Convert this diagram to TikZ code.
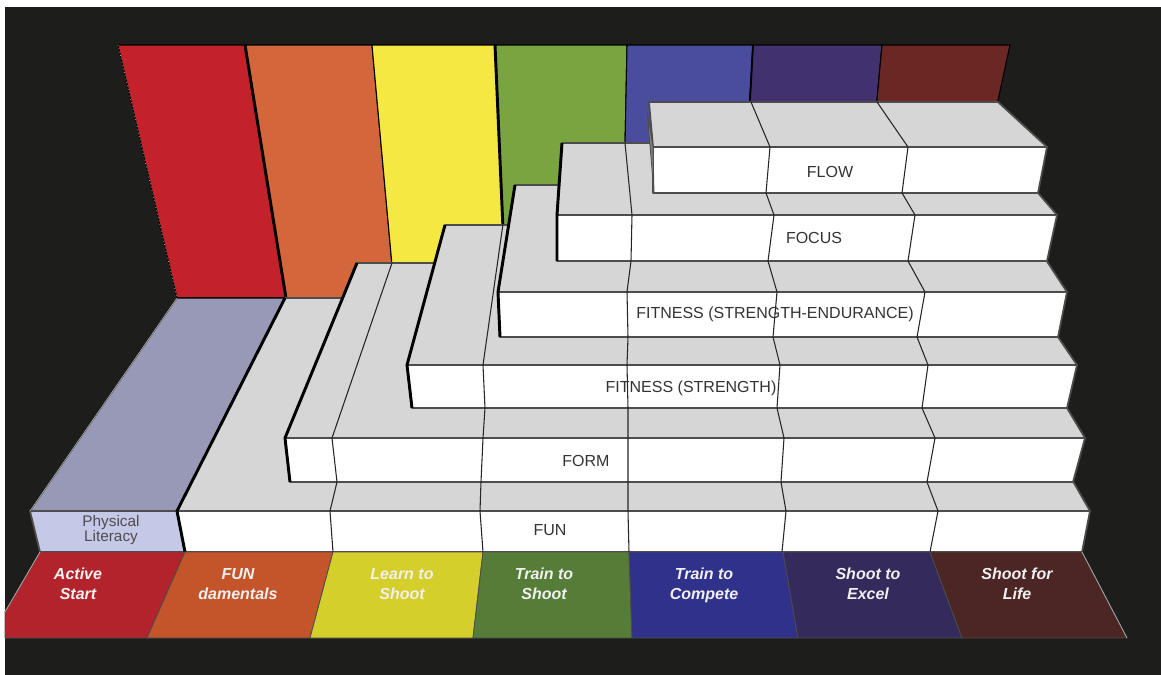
\documentclass[tikz,border=0pt]{standalone}
\usepackage{fontspec}
\setmainfont{Liberation Sans}
\usetikzlibrary{positioning}
\definecolor{backdrop}{HTML}{1D1D1B}
\definecolor{wallred}{HTML}{C4222A}
\definecolor{wallorange}{HTML}{D4663C}
\definecolor{wallyellow}{HTML}{F6E843}
\definecolor{wallgreen}{HTML}{78A540}
\definecolor{wallblue}{HTML}{4A4D9E}
\definecolor{wallpurple}{HTML}{41316F}
\definecolor{wallmaroon}{HTML}{6A2723}
\definecolor{floorred}{HTML}{B3232B}
\definecolor{floororange}{HTML}{C4552B}
\definecolor{flooryellow}{HTML}{D5CF2C}
\definecolor{floorgreen}{HTML}{567D38}
\definecolor{floorblue}{HTML}{30318A}
\definecolor{floorpurple}{HTML}{352A5C}
\definecolor{floormaroon}{HTML}{4C2624}
\definecolor{pltop}{HTML}{9899B6}
\definecolor{plfront}{HTML}{C6C8E8}
\definecolor{stepgrey}{HTML}{D6D6D6}
\definecolor{edgegrey}{HTML}{4D4D4D}
\definecolor{labelgrey}{HTML}{333333}
\newcommand\stairfont{\fontsize{12}{14}\selectfont}
\newcommand\floorfont{\fontsize{12}{15}\selectfont\bfseries\itshape}
\begin{document}
\begin{tikzpicture}[x=.75pt, y=-.75pt, line join=round]
\tikzstyle{wall}=[draw=black, line width=.8pt] %%
\tikzstyle{wallline}=[draw=black, line width=2.2pt] %%
\tikzstyle{topface}=[fill=stepgrey, draw=edgegrey, line width=1.3pt] %%
\tikzstyle{frontface}=[fill=white, draw=edgegrey, line width=1.3pt] %%
\tikzstyle{sideface}=[fill=gray, draw=edgegrey, line width=.6pt] %%
\tikzstyle{slabedge}=[draw=black, line width=2.2pt] %%
\tikzstyle{divider}=[draw=black!85, line width=.8pt] %%
\tikzstyle{floorpanel}=[draw=black!70, line width=.6pt] %%
\tikzstyle{rim}=[draw=gray!70, line width=.6pt] %%
\tikzstyle{stairlabel}=[inner sep=0pt, anchor=base, text=labelgrey, font=\stairfont] %%
\tikzstyle{floorlabel}=[inner sep=0pt, align=center, text=white!94!black, font=\floorfont] %%
\useasboundingbox (0,0) rectangle (1161,675);
\fill[white] (0,0) rectangle (1161,675);
\fill[backdrop] (5,7) rectangle (1161,675); %%
% back wall
\filldraw[wall, fill=wallred] (118,45) -- (245,45) -- (286,298) -- (177,298) -- cycle; %%
\filldraw[wall, fill=wallorange] (245,45) -- (372,45) -- (395,298) -- (286,298) -- cycle; %%
\filldraw[wall, fill=wallyellow] (372,45) -- (495,45) -- (506,298) -- (395,298) -- cycle; %%
\filldraw[wall, fill=wallgreen] (495,45) -- (627,45) -- (622,298) -- (506,298) -- cycle; %%
\filldraw[wall, fill=wallblue] (627,45) -- (753,45) -- (739,298) -- (622,298) -- cycle; %%
\filldraw[wall, fill=wallpurple] (753,45) -- (882,45) -- (859,298) -- (739,298) -- cycle; %%
\filldraw[wall, fill=wallmaroon] (882,45) -- (1010,45) -- (955,298) -- (859,298) -- cycle; %%
\draw[wallline] (245,45) -- (286,298); %%
\draw[wallline] (495,45) -- (506,298); %%
\draw[wallline, line width=1.4pt] (753,45) -- (739,298); %%
\draw[rim, dotted] (118,45) -- (177,298); %%
% Physical Literacy
\filldraw[wall, fill=pltop] (177,298) -- (285,298) -- (177,511) -- (30,511) -- cycle; %%
\filldraw[frontface, fill=plfront] (30,511) -- (177,511) -- (185,552) -- (40,552) -- cycle; %%
\draw[rim] (177,298) -- (30,511); %%
% FUN
\filldraw[topface] (285,298) -- (968,298) -- (1090,511) -- (177,511) -- cycle; %%
\filldraw[frontface] (177,511) -- (1090,511) -- (1082,552) -- (185,552) -- cycle; %%
% FORM
\filldraw[topface] (357,263) -- (980,263) -- (1085,438) -- (285,438) -- cycle; %%
\filldraw[frontface] (285,438) -- (1085,438) -- (1073,482) -- (290,482) -- cycle; %%
% FITNESS (STRENGTH)
\filldraw[topface] (445,225) -- (982,225) -- (1077,365) -- (407,365) -- cycle; %%
\filldraw[frontface] (407,365) -- (1077,365) -- (1067,408) -- (412,408) -- cycle; %%
% FITNESS (STRENGTH-ENDURANCE)
\filldraw[topface] (515,185) -- (997,185) -- (1067,292) -- (498,292) -- cycle; %%
\filldraw[frontface] (498,292) -- (1067,292) -- (1058,337) -- (500,337) -- cycle; %%
% FOCUS
\filldraw[topface] (562,143) -- (995,143) -- (1057,215) -- (557,215) -- cycle; %%
\filldraw[frontface] (557,215) -- (1057,215) -- (1047,261) -- (557,261) -- cycle; %%
% FLOW
\filldraw[topface] (649,102) -- (998,102) -- (1047,147) -- (653,147) -- cycle; %%
\filldraw[frontface] (653,147) -- (1047,147) -- (1038,193) -- (653,193) -- cycle; %%
\filldraw[sideface] (647,110) -- (653,147) -- (654,193) -- cycle; %%
% left edges of the steps
\draw[slabedge] (285,298) -- (177,511) -- (185,552); %%
\draw[slabedge] (357,263) -- (285,438) -- (290,482); %%
\draw[slabedge] (445,225) -- (407,365) -- (412,408); %%
\draw[slabedge] (515,185) -- (498,292) -- (500,337); %%
\draw[slabedge] (562,143) -- (557,215) -- (557,261); %%
% stage dividers across the steps
\draw[divider] (392,263) -- (332,438) -- (337,482) -- (330,511) -- (333,552); %%
\draw[divider] (503,224) -- (483,365) -- (485,408) -- (483,438) -- (481,482) -- (480,511) -- (483,552); %%
\draw[divider] (625,143) -- (632,215) -- (631,261) -- (627,292) -- (628,337) -- (627,365) -- (628,408) -- (628,438) -- (628,482) -- (628,511) -- (629,552); %%
\draw[divider] (751,102) -- (770,147) -- (766,193) -- (774,215) -- (768,261) -- (777,292) -- (773,337) -- (780,365) -- (777,408) -- (784,438) -- (781,482) -- (786,511) -- (782,552); %%
\draw[divider] (877,102) -- (908,147) -- (902,193) -- (915,215) -- (908,261) -- (925,292) -- (917,337) -- (928,365) -- (922,408) -- (935,438) -- (927,482) -- (938,511) -- (930,552); %%
% floor
\filldraw[floorpanel, fill=floorred] (40,552) -- (185,552) -- (147,638) -- (5,638) -- (5,612) -- cycle; %%
\filldraw[floorpanel, fill=floororange] (185,552) -- (333,552) -- (310,638) -- (147,638) -- cycle; %%
\filldraw[floorpanel, fill=flooryellow] (333,552) -- (483,552) -- (473,638) -- (310,638) -- cycle; %%
\filldraw[floorpanel, fill=floorgreen] (483,552) -- (629,552) -- (632,638) -- (473,638) -- cycle; %%
\filldraw[floorpanel, fill=floorblue] (629,552) -- (783,552) -- (798,638) -- (632,638) -- cycle; %%
\filldraw[floorpanel, fill=floorpurple] (783,552) -- (930,552) -- (962,638) -- (798,638) -- cycle; %%
\filldraw[floorpanel, fill=floormaroon] (930,552) -- (1082,552) -- (1127,638) -- (962,638) -- cycle; %%
\draw[rim] (40,552) -- (5,612); %%
\draw[rim] (1082,552) -- (1127,638); %%
% step labels
\node[stairlabel] (flow) at (830,177) {FLOW}; %%
\node[stairlabel] (focus) at (814,243) {FOCUS}; %%
\node[stairlabel] (fitse) at (775,318) {FITNESS (STRENGTH-ENDURANCE)}; %%
\node[stairlabel] (fits) at (691,392) {FITNESS (STRENGTH)}; %%
\node[stairlabel] (form) at (586,466) {FORM}; %%
\node[stairlabel] (fun) at (550,535) {FUN}; %%
\node[inner sep=0pt, align=center, text=edgegrey, font=\fontsize{11.5}{11.5}\selectfont] (physlit) at (111,530) {Physical\\Literacy}; %%
% stage labels
\node[floorlabel] (active) at (78,584) {Active\\Start}; %%
\node[floorlabel] (fundam) at (238,584) {FUN\\damentals}; %%
\node[floorlabel] (learn) at (402,584) {Learn to\\Shoot}; %%
\node[floorlabel] (trainshoot) at (544,584) {Train to\\Shoot}; %%
\node[floorlabel] (traincomp) at (704,585) {Train to\\Compete}; %%
\node[floorlabel] (excel) at (868,584) {Shoot to\\Excel}; %%
\node[floorlabel] (life) at (1017,584) {Shoot for\\Life}; %%
\end{tikzpicture}
\end{document}
